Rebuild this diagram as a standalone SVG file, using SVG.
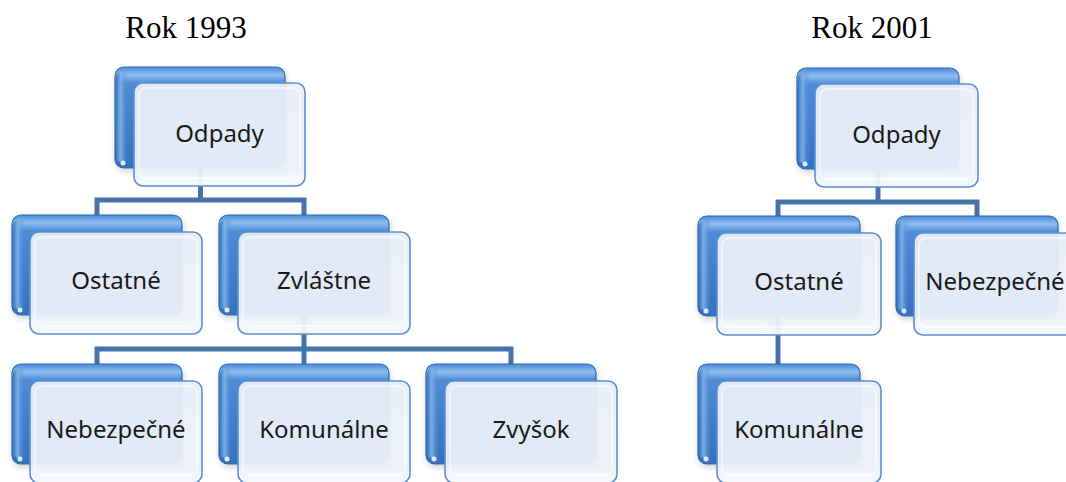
<svg xmlns="http://www.w3.org/2000/svg" width="1066" height="482" viewBox="0 0 1066 482">
<defs>
<linearGradient id="backG" x1="0" y1="0" x2="0" y2="1">
<stop offset="0" stop-color="#4d8ad6"/>
<stop offset="0.08" stop-color="#8cbdf0"/>
<stop offset="0.16" stop-color="#4f8cd6"/>
<stop offset="1" stop-color="#3572bf"/>
</linearGradient>
<linearGradient id="leftG" x1="0" y1="0" x2="1" y2="0">
<stop offset="0" stop-color="#3a76c2"/>
<stop offset="0.4" stop-color="#7fb3ea" stop-opacity="0.9"/>
<stop offset="1" stop-color="#4a86d2" stop-opacity="0"/>
</linearGradient>
<linearGradient id="frontG" x1="0" y1="0" x2="0" y2="1">
<stop offset="0" stop-color="#e8eef8"/>
<stop offset="0.85" stop-color="#ecf1f9"/>
<stop offset="1" stop-color="#f7f9fd"/>
</linearGradient>
<filter id="sh" x="-10%" y="-10%" width="125%" height="130%">
<feDropShadow dx="1" dy="3" stdDeviation="3" flood-color="#000" flood-opacity="0.18"/>
</filter>
</defs>
<style>
.back{fill:url(#backG);stroke:#2f68b2;stroke-width:1.2;filter:url(#sh)}
.lhi{fill:url(#leftG)}
.glint{fill:#ffffff;opacity:0.85}
.front{fill:url(#frontG);fill-opacity:0.95;stroke:#5c8fd2;stroke-width:1.6}
.inner{fill:none;stroke:#ffffff;stroke-opacity:0.5;stroke-width:2}
.lbl{font-family:"Noto Sans","Open Sans",sans-serif;font-size:24px;fill:#1a1a1a;text-anchor:middle}
.title{font-family:"Liberation Serif","Times New Roman",serif;font-size:31px;fill:#000;text-anchor:middle}
.conn{fill:none;stroke:#4873aa;stroke-width:5;stroke-linejoin:miter}
</style>

<text class="title" x="186" y="38">Rok 1993</text>
<text class="title" x="872" y="38">Rok 2001</text>

<g id="connectors">
<path class="conn" d="M200.5,120 V200 M97,230 V200 H304 V230"/>
<path class="conn" d="M304,290 V349 M97,380 V349 H511 V380 M304,349 V380"/>
<path class="conn" d="M878,120 V202 M778,230 V202 H977 V230"/>
<path class="conn" d="M778,290 V380"/>
</g>

<g id="n-odpady-1993">
<rect class="back" x="115" y="67" width="170" height="101" rx="9"/>
<rect class="lhi" x="116" y="72" width="12" height="90" rx="5"/>
<circle class="glint" cx="123" cy="163" r="2.5"/>
<rect class="front" x="134" y="83" width="171" height="103" rx="9"/>
<rect class="inner" x="139" y="88" width="161" height="90" rx="7"/>
<text class="lbl" x="219.5" y="142">Odpady</text>
</g>

<g id="n-ostatne-1993">
<rect class="back" x="12" y="215" width="170" height="100" rx="9"/>
<rect class="lhi" x="13" y="220" width="12" height="89" rx="5"/>
<circle class="glint" cx="20" cy="310" r="2.5"/>
<rect class="front" x="30" y="232" width="172" height="102" rx="9"/>
<rect class="inner" x="35" y="237" width="162" height="89" rx="7"/>
<text class="lbl" x="116" y="289">Ostatné</text>
</g>

<g id="n-zvlastne-1993">
<rect class="back" x="219" y="215" width="170" height="100" rx="9"/>
<rect class="lhi" x="220" y="220" width="12" height="89" rx="5"/>
<circle class="glint" cx="227" cy="310" r="2.5"/>
<rect class="front" x="238" y="232" width="172" height="102" rx="9"/>
<rect class="inner" x="243" y="237" width="162" height="89" rx="7"/>
<text class="lbl" x="324" y="289">Zvláštne</text>
</g>

<g id="n-nebezpecne-1993">
<rect class="back" x="12" y="364" width="170" height="100" rx="9"/>
<rect class="lhi" x="13" y="369" width="12" height="89" rx="5"/>
<circle class="glint" cx="20" cy="459" r="2.5"/>
<rect class="front" x="30" y="381" width="172" height="102" rx="9"/>
<rect class="inner" x="35" y="386" width="162" height="89" rx="7"/>
<text class="lbl" x="116" y="438">Nebezpečné</text>
</g>

<g id="n-komunalne-1993">
<rect class="back" x="219" y="364" width="170" height="100" rx="9"/>
<rect class="lhi" x="220" y="369" width="12" height="89" rx="5"/>
<circle class="glint" cx="227" cy="459" r="2.5"/>
<rect class="front" x="238" y="381" width="172" height="102" rx="9"/>
<rect class="inner" x="243" y="386" width="162" height="89" rx="7"/>
<text class="lbl" x="324" y="438">Komunálne</text>
</g>

<g id="n-zvysok-1993">
<rect class="back" x="426" y="364" width="170" height="100" rx="9"/>
<rect class="lhi" x="427" y="369" width="12" height="89" rx="5"/>
<circle class="glint" cx="434" cy="459" r="2.5"/>
<rect class="front" x="445" y="381" width="172" height="102" rx="9"/>
<rect class="inner" x="450" y="386" width="162" height="89" rx="7"/>
<text class="lbl" x="531" y="438">Zvyšok</text>
</g>

<g id="n-odpady-2001">
<rect class="back" x="797" y="68" width="162" height="101" rx="9"/>
<rect class="lhi" x="798" y="73" width="12" height="90" rx="5"/>
<circle class="glint" cx="805" cy="164" r="2.5"/>
<rect class="front" x="815" y="84" width="163" height="103" rx="9"/>
<rect class="inner" x="820" y="89" width="153" height="90" rx="7"/>
<text class="lbl" x="896.5" y="143">Odpady</text>
</g>

<g id="n-ostatne-2001">
<rect class="back" x="698" y="216" width="162" height="100" rx="9"/>
<rect class="lhi" x="699" y="221" width="12" height="89" rx="5"/>
<circle class="glint" cx="706" cy="311" r="2.5"/>
<rect class="front" x="717" y="233" width="164" height="102" rx="9"/>
<rect class="inner" x="722" y="238" width="154" height="89" rx="7"/>
<text class="lbl" x="799" y="290">Ostatné</text>
</g>

<g id="n-nebezpecne-2001">
<rect class="back" x="896" y="216" width="162" height="100" rx="9"/>
<rect class="lhi" x="897" y="221" width="12" height="89" rx="5"/>
<circle class="glint" cx="904" cy="311" r="2.5"/>
<rect class="front" x="914" y="233" width="164" height="102" rx="9"/>
<rect class="inner" x="919" y="238" width="154" height="89" rx="7"/>
<text class="lbl" x="995" y="290">Nebezpečné</text>
</g>

<g id="n-komunalne-2001">
<rect class="back" x="698" y="364" width="162" height="100" rx="9"/>
<rect class="lhi" x="699" y="369" width="12" height="89" rx="5"/>
<circle class="glint" cx="706" cy="459" r="2.5"/>
<rect class="front" x="717" y="381" width="164" height="102" rx="9"/>
<rect class="inner" x="722" y="386" width="154" height="89" rx="7"/>
<text class="lbl" x="799" y="438">Komunálne</text>
</g>
</svg>
